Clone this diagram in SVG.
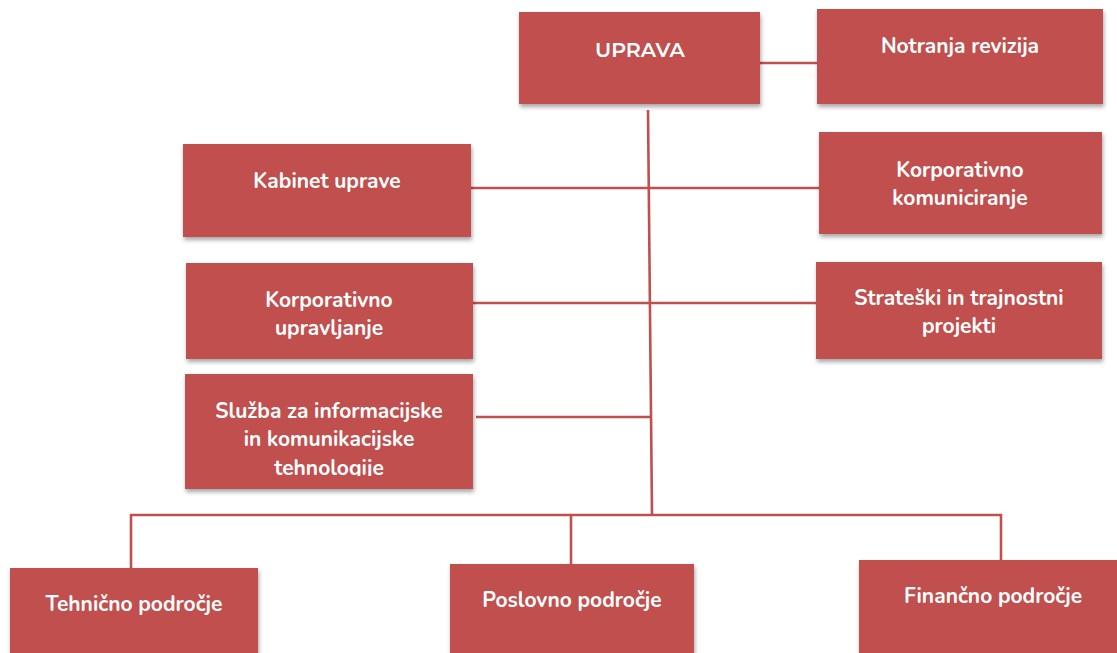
<svg xmlns="http://www.w3.org/2000/svg" width="1117" height="653" viewBox="0 0 1117 653">
<style>
.box{fill:#C0504D;filter:url(#sh);}
.t{fill:#ffffff;font-family:"Nunito","Open Sans","Liberation Sans",sans-serif;font-weight:bold;font-size:21px;text-anchor:middle;}
.t2{fill:#ffffff;font-family:"Montserrat","Open Sans","Liberation Sans",sans-serif;font-weight:600;font-size:20.5px;text-anchor:middle;}
.c{stroke:#C0504D;stroke-width:2.6;fill:none;}
</style>
<defs>
<filter id="sh" x="-10%" y="-10%" width="120%" height="130%">
<feDropShadow dx="1" dy="3" stdDeviation="2" flood-color="#000" flood-opacity="0.35"/>
</filter>
<clipPath id="clipS"><rect x="185" y="374" width="288" height="102"/></clipPath>
</defs>
<rect width="1117" height="653" fill="#ffffff"/>
<g id="connectors">
<line class="c" x1="760" y1="63" x2="817" y2="63"/>
<line class="c" x1="648" y1="110" x2="652" y2="515"/>
<line class="c" x1="471" y1="188" x2="820" y2="188"/>
<line class="c" x1="473" y1="303" x2="817" y2="303"/>
<line class="c" x1="476" y1="417" x2="651" y2="417"/>
<polyline class="c" points="131,571 131,515 1001,515 1001,562"/>
<line class="c" x1="571" y1="515" x2="571" y2="564"/>
</g>
<g id="uprava">
<rect class="box" x="519" y="12" width="241" height="92"/>
<text class="t2" x="640" y="57">UPRAVA</text>
</g>
<g id="notranja-revizija">
<rect class="box" x="817" y="9" width="286" height="95"/>
<text class="t" x="960" y="53">Notranja revizija</text>
</g>
<g id="kabinet-uprave">
<rect class="box" x="183" y="144" width="288" height="93"/>
<text class="t" x="327" y="188">Kabinet uprave</text>
</g>
<g id="korporativno-komuniciranje">
<rect class="box" x="819" y="132" width="283" height="102"/>
<text class="t" x="960" y="177">Korporativno</text>
<text class="t" x="960" y="205">komuniciranje</text>
</g>
<g id="korporativno-upravljanje">
<rect class="box" x="186" y="263" width="287" height="96"/>
<text class="t" x="329" y="307">Korporativno</text>
<text class="t" x="329" y="335">upravljanje</text>
</g>
<g id="strateski">
<rect class="box" x="816" y="262" width="286" height="97"/>
<text class="t" x="959" y="305">Strateški in trajnostni</text>
<text class="t" x="959" y="333">projekti</text>
</g>
<g id="sluzba-ikt">
<rect class="box" x="185" y="374" width="288" height="115"/>
<g clip-path="url(#clipS)">
<text class="t" x="329" y="418">Služba za informacijske</text>
<text class="t" x="329" y="446">in komunikacijske</text>
<text class="t" x="329" y="475">tehnologije</text>
</g>
</g>
<g id="tehnicno">
<rect class="box" x="10" y="568" width="248" height="95"/>
<text class="t" x="134" y="611">Tehnično področje</text>
</g>
<g id="poslovno">
<rect class="box" x="450" y="564" width="244" height="99"/>
<text class="t" x="572" y="607">Poslovno področje</text>
</g>
<g id="financno">
<rect class="box" x="859" y="560" width="268" height="103"/>
<text class="t" x="993" y="603">Finančno področje</text>
</g>
</svg>
